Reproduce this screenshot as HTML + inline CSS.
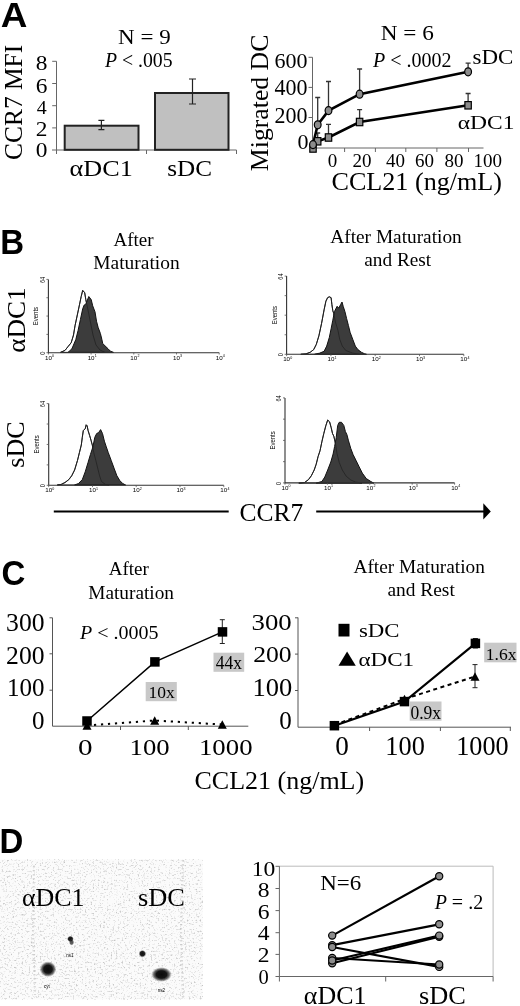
<!DOCTYPE html>
<html><head><meta charset="utf-8"><style>
html,body{margin:0;padding:0;background:#fff;}
svg{display:block;will-change:transform;}
text{fill:#000;}
</style></head><body>
<svg width="520" height="1006" viewBox="0 0 520 1006">
<rect width="520" height="1006" fill="#fff"/>
<path d="M56.5,61.3 V150 M52,150 H236.5" stroke="#666" stroke-width="1" fill="none"/>
<line x1="52.2" y1="61.3" x2="56.5" y2="61.3" stroke="#666" stroke-width="1"/>
<line x1="52.2" y1="83.5" x2="56.5" y2="83.5" stroke="#666" stroke-width="1"/>
<line x1="52.2" y1="105.7" x2="56.5" y2="105.7" stroke="#666" stroke-width="1"/>
<line x1="52.2" y1="127.9" x2="56.5" y2="127.9" stroke="#666" stroke-width="1"/>
<line x1="56.5" y1="150" x2="56.5" y2="154" stroke="#666" stroke-width="1"/>
<line x1="146.5" y1="150" x2="146.5" y2="154" stroke="#666" stroke-width="1"/>
<line x1="236.5" y1="150" x2="236.5" y2="154" stroke="#666" stroke-width="1"/>
<rect x="64.7" y="125.7" width="73.8" height="24.1" fill="#c0c0c0" stroke="#222" stroke-width="2"/>
<rect x="155" y="93" width="73.5" height="56.8" fill="#c0c0c0" stroke="#222" stroke-width="2"/>
<path d="M101.4,120.4 V129.6 M98.4,120.4 H104.4 M98.4,129.6 H104.4" stroke="#222" stroke-width="1.2" fill="none"/>
<path d="M192.5,79 V104 M189.0,79 H196.0 M189.0,104 H196.0" stroke="#222" stroke-width="1.2" fill="none"/>
<path d="M312.5,57.3 V148 H483.5" stroke="#666" stroke-width="1" fill="none"/>
<line x1="308.5" y1="57.3" x2="312.5" y2="57.3" stroke="#666" stroke-width="1"/>
<line x1="308.5" y1="87.4" x2="312.5" y2="87.4" stroke="#666" stroke-width="1"/>
<line x1="308.5" y1="117.5" x2="312.5" y2="117.5" stroke="#666" stroke-width="1"/>
<line x1="344.6" y1="148" x2="344.6" y2="152" stroke="#666" stroke-width="1"/>
<line x1="375.4" y1="148" x2="375.4" y2="152" stroke="#666" stroke-width="1"/>
<line x1="405.8" y1="148" x2="405.8" y2="152" stroke="#666" stroke-width="1"/>
<line x1="436.9" y1="148" x2="436.9" y2="152" stroke="#666" stroke-width="1"/>
<line x1="468.5" y1="148" x2="468.5" y2="152" stroke="#666" stroke-width="1"/>
<path d="M317.7,124.8 V97.5 M315.2,97.5 H320.2" stroke="#333" stroke-width="1.3" fill="none"/>
<path d="M328.5,110.6 V81.5 M326.0,81.5 H331.0" stroke="#333" stroke-width="1.3" fill="none"/>
<path d="M359.6,94.2 V69 M357.1,69 H362.1" stroke="#333" stroke-width="1.3" fill="none"/>
<path d="M468.1,71.8 V63.1 M465.6,63.1 H470.6" stroke="#333" stroke-width="1.3" fill="none"/>
<path d="M317.7,141.3 V133 M315.2,133 H320.2" stroke="#333" stroke-width="1.3" fill="none"/>
<path d="M328.5,137.5 V124.4 M326.0,124.4 H331.0" stroke="#333" stroke-width="1.3" fill="none"/>
<path d="M359.6,122 V109.6 M357.1,109.6 H362.1" stroke="#333" stroke-width="1.3" fill="none"/>
<path d="M468.1,105.3 V93.5 M465.6,93.5 H470.6" stroke="#333" stroke-width="1.3" fill="none"/>
<polyline points="313.0,144.6 317.7,124.8 328.5,110.6 359.6,94.2 468.1,71.8" fill="none" stroke="#000" stroke-width="2.6"/>
<polyline points="313.0,148.5 317.7,141.3 328.5,137.5 359.6,122.0 468.1,105.3" fill="none" stroke="#000" stroke-width="2.6"/>
<rect x="309.8" y="144.8" width="6.4" height="7.4" fill="#8c8c8c" stroke="#000" stroke-width="1.2"/>
<rect x="314.5" y="137.60000000000002" width="6.4" height="7.4" fill="#8c8c8c" stroke="#000" stroke-width="1.2"/>
<rect x="325.3" y="133.8" width="6.4" height="7.4" fill="#8c8c8c" stroke="#000" stroke-width="1.2"/>
<rect x="356.40000000000003" y="118.3" width="6.4" height="7.4" fill="#8c8c8c" stroke="#000" stroke-width="1.2"/>
<rect x="464.90000000000003" y="101.6" width="6.4" height="7.4" fill="#8c8c8c" stroke="#000" stroke-width="1.2"/>
<ellipse cx="313" cy="144.6" rx="3.4" ry="4.0" fill="#8c8c8c" stroke="#000" stroke-width="1.2"/>
<ellipse cx="317.7" cy="124.8" rx="3.4" ry="4.0" fill="#8c8c8c" stroke="#000" stroke-width="1.2"/>
<ellipse cx="328.5" cy="110.6" rx="3.4" ry="4.0" fill="#8c8c8c" stroke="#000" stroke-width="1.2"/>
<ellipse cx="359.6" cy="94.2" rx="3.4" ry="4.0" fill="#8c8c8c" stroke="#000" stroke-width="1.2"/>
<ellipse cx="468.1" cy="71.8" rx="3.4" ry="4.0" fill="#8c8c8c" stroke="#000" stroke-width="1.2"/>
<polygon points="60.4,352.4 65.0,350.4 68.1,346.5 71.2,342.7 73.5,335.0 75.0,325.8 77.3,315.0 79.6,304.2 81.2,296.5 82.7,290.4 84.7,292.7 85.8,299.6 88.0,310.0 90.0,320.0 93.0,335.0 96.0,345.0 100.0,350.0 105.0,352.4" fill="#fff" stroke="#111" stroke-width="1"/>
<polygon points="68.0,352.4 71.9,348.8 75.8,339.6 78.1,330.4 80.4,319.6 82.7,308.8 84.2,305.0 85.8,304.2 88.8,296.5 91.2,299.6 92.7,305.8 95.0,311.9 96.5,321.2 98.1,327.3 100.4,333.5 101.9,339.6 102.7,343.5 105.0,345.8 108.1,348.8 110.4,351.2 113.5,352.4" fill="#3c3c3c" stroke="#111" stroke-width="1"/>
<polyline points="60.4,352.4 65.0,350.4 68.1,346.5 71.2,342.7 73.5,335.0 75.0,325.8 77.3,315.0 79.6,304.2 81.2,296.5 82.7,290.4 84.7,292.7 85.8,299.6 88.0,310.0 90.0,320.0 93.0,335.0 96.0,345.0 100.0,350.0 105.0,352.4" fill="none" stroke="#222" stroke-width="0.8"/>
<path d="M48.4,279.4 V352.7 H219.2" fill="none" stroke="#333" stroke-width="1.1"/>
<line x1="46.4" y1="279.4" x2="48.4" y2="279.4" stroke="#555" stroke-width="0.8"/>
<line x1="46.4" y1="297.72499999999997" x2="48.4" y2="297.72499999999997" stroke="#555" stroke-width="0.8"/>
<line x1="46.4" y1="316.04999999999995" x2="48.4" y2="316.04999999999995" stroke="#555" stroke-width="0.8"/>
<line x1="46.4" y1="334.375" x2="48.4" y2="334.375" stroke="#555" stroke-width="0.8"/>
<line x1="46.4" y1="352.7" x2="48.4" y2="352.7" stroke="#555" stroke-width="0.8"/>
<line x1="48.4" y1="352.7" x2="48.4" y2="354.5" stroke="#555" stroke-width="0.8"/>
<text x="48.4" y="359.7" font-size="6.2" text-anchor="middle" font-family="Liberation Sans, sans-serif" fill="#444">10</text>
<text x="53.0" y="357.09999999999997" font-size="3.6" text-anchor="middle" font-family="Liberation Sans, sans-serif" fill="#555">0</text>
<line x1="91.1" y1="352.7" x2="91.1" y2="354.5" stroke="#555" stroke-width="0.8"/>
<text x="91.1" y="359.7" font-size="6.2" text-anchor="middle" font-family="Liberation Sans, sans-serif" fill="#444">10</text>
<text x="95.69999999999999" y="357.09999999999997" font-size="3.6" text-anchor="middle" font-family="Liberation Sans, sans-serif" fill="#555">1</text>
<line x1="133.8" y1="352.7" x2="133.8" y2="354.5" stroke="#555" stroke-width="0.8"/>
<text x="133.8" y="359.7" font-size="6.2" text-anchor="middle" font-family="Liberation Sans, sans-serif" fill="#444">10</text>
<text x="138.4" y="357.09999999999997" font-size="3.6" text-anchor="middle" font-family="Liberation Sans, sans-serif" fill="#555">2</text>
<line x1="176.5" y1="352.7" x2="176.5" y2="354.5" stroke="#555" stroke-width="0.8"/>
<text x="176.5" y="359.7" font-size="6.2" text-anchor="middle" font-family="Liberation Sans, sans-serif" fill="#444">10</text>
<text x="181.1" y="357.09999999999997" font-size="3.6" text-anchor="middle" font-family="Liberation Sans, sans-serif" fill="#555">3</text>
<line x1="219.2" y1="352.7" x2="219.2" y2="354.5" stroke="#555" stroke-width="0.8"/>
<text x="219.2" y="359.7" font-size="6.2" text-anchor="middle" font-family="Liberation Sans, sans-serif" fill="#444">10</text>
<text x="223.79999999999998" y="357.09999999999997" font-size="3.6" text-anchor="middle" font-family="Liberation Sans, sans-serif" fill="#555">4</text>
<text transform="translate(44.6,279.9) rotate(-90) scale(0.8,1)" font-size="7" text-anchor="middle" font-family="Liberation Sans, sans-serif" fill="#444">64</text>
<text transform="translate(44.6,353.2) rotate(-90) scale(0.8,1)" font-size="7" text-anchor="middle" font-family="Liberation Sans, sans-serif" fill="#444">0</text>
<text transform="translate(38.3,316.04999999999995) rotate(-90) scale(0.82,1)" font-size="7.3" text-anchor="middle" font-family="Liberation Sans, sans-serif" fill="#333">Events</text>
<polygon points="300.8,354.3 306.0,353.9 310.3,352.2 313.7,349.6 316.3,344.4 318.9,335.8 321.5,323.7 324.1,309.8 325.9,301.2 327.6,297.7 329.3,296.8 331.1,297.7 331.9,304.6 332.8,310.7 333.7,313.3 335.4,321.9 338.0,330.6 339.7,339.2 342.3,346.1 345.8,350.5 352.7,353.1 359.6,354.3" fill="#fff" stroke="#111" stroke-width="1"/>
<polygon points="314.6,354.3 319.8,353.1 324.1,351.3 326.7,346.1 329.3,337.5 331.1,328.8 332.8,320.2 334.5,311.5 337.1,306.3 338.8,308.1 340.6,304.6 342.0,302.0 343.2,306.3 344.9,311.5 346.6,318.5 348.4,325.4 350.1,332.3 352.7,339.2 355.3,346.1 357.9,349.6 361.3,352.2 364.8,353.9 366.5,354.3" fill="#3c3c3c" stroke="#111" stroke-width="1"/>
<polyline points="300.8,354.3 306.0,353.9 310.3,352.2 313.7,349.6 316.3,344.4 318.9,335.8 321.5,323.7 324.1,309.8 325.9,301.2 327.6,297.7 329.3,296.8 331.1,297.7 331.9,304.6 332.8,310.7 333.7,313.3 335.4,321.9 338.0,330.6 339.7,339.2 342.3,346.1 345.8,350.5 352.7,353.1 359.6,354.3" fill="none" stroke="#222" stroke-width="0.8"/>
<path d="M286.6,276.1 V354.3 H463.8" fill="none" stroke="#333" stroke-width="1.1"/>
<line x1="284.6" y1="276.1" x2="286.6" y2="276.1" stroke="#555" stroke-width="0.8"/>
<line x1="284.6" y1="295.65000000000003" x2="286.6" y2="295.65000000000003" stroke="#555" stroke-width="0.8"/>
<line x1="284.6" y1="315.20000000000005" x2="286.6" y2="315.20000000000005" stroke="#555" stroke-width="0.8"/>
<line x1="284.6" y1="334.75" x2="286.6" y2="334.75" stroke="#555" stroke-width="0.8"/>
<line x1="284.6" y1="354.3" x2="286.6" y2="354.3" stroke="#555" stroke-width="0.8"/>
<line x1="286.6" y1="354.3" x2="286.6" y2="356.1" stroke="#555" stroke-width="0.8"/>
<text x="286.6" y="361.3" font-size="6.2" text-anchor="middle" font-family="Liberation Sans, sans-serif" fill="#444">10</text>
<text x="291.20000000000005" y="358.7" font-size="3.6" text-anchor="middle" font-family="Liberation Sans, sans-serif" fill="#555">0</text>
<line x1="330.9" y1="354.3" x2="330.9" y2="356.1" stroke="#555" stroke-width="0.8"/>
<text x="330.9" y="361.3" font-size="6.2" text-anchor="middle" font-family="Liberation Sans, sans-serif" fill="#444">10</text>
<text x="335.5" y="358.7" font-size="3.6" text-anchor="middle" font-family="Liberation Sans, sans-serif" fill="#555">1</text>
<line x1="375.2" y1="354.3" x2="375.2" y2="356.1" stroke="#555" stroke-width="0.8"/>
<text x="375.2" y="361.3" font-size="6.2" text-anchor="middle" font-family="Liberation Sans, sans-serif" fill="#444">10</text>
<text x="379.8" y="358.7" font-size="3.6" text-anchor="middle" font-family="Liberation Sans, sans-serif" fill="#555">2</text>
<line x1="419.5" y1="354.3" x2="419.5" y2="356.1" stroke="#555" stroke-width="0.8"/>
<text x="419.5" y="361.3" font-size="6.2" text-anchor="middle" font-family="Liberation Sans, sans-serif" fill="#444">10</text>
<text x="424.1" y="358.7" font-size="3.6" text-anchor="middle" font-family="Liberation Sans, sans-serif" fill="#555">3</text>
<line x1="463.8" y1="354.3" x2="463.8" y2="356.1" stroke="#555" stroke-width="0.8"/>
<text x="463.8" y="361.3" font-size="6.2" text-anchor="middle" font-family="Liberation Sans, sans-serif" fill="#444">10</text>
<text x="468.40000000000003" y="358.7" font-size="3.6" text-anchor="middle" font-family="Liberation Sans, sans-serif" fill="#555">4</text>
<text transform="translate(282.8,276.6) rotate(-90) scale(0.8,1)" font-size="7" text-anchor="middle" font-family="Liberation Sans, sans-serif" fill="#444">64</text>
<text transform="translate(282.8,354.8) rotate(-90) scale(0.8,1)" font-size="7" text-anchor="middle" font-family="Liberation Sans, sans-serif" fill="#444">0</text>
<text transform="translate(276.5,315.20000000000005) rotate(-90) scale(0.82,1)" font-size="7.3" text-anchor="middle" font-family="Liberation Sans, sans-serif" fill="#333">Events</text>
<polygon points="57.3,485.0 61.2,484.4 65.0,482.5 68.8,479.6 71.7,475.8 74.6,470.0 77.5,460.4 79.4,452.7 81.3,445.0 82.3,437.3 83.3,430.6 85.2,428.7 86.2,424.8 87.1,425.8 88.1,430.6 89.6,435.4 91.0,440.2 92.3,445.0 93.8,452.7 95.8,460.4 97.7,468.1 99.6,475.8 101.5,481.5 105.4,484.4 109.2,485.0" fill="#fff" stroke="#111" stroke-width="1"/>
<polygon points="74.6,485.0 78.5,483.5 82.3,479.6 85.2,471.9 88.1,462.3 90.4,454.6 92.9,446.9 94.8,437.3 96.7,433.5 98.7,432.5 100.6,429.6 102.5,433.5 104.4,441.2 106.3,446.9 108.3,452.7 111.2,460.4 114.0,468.1 116.9,475.8 119.8,480.6 122.7,483.5 125.6,485.0" fill="#3c3c3c" stroke="#111" stroke-width="1"/>
<polyline points="57.3,485.0 61.2,484.4 65.0,482.5 68.8,479.6 71.7,475.8 74.6,470.0 77.5,460.4 79.4,452.7 81.3,445.0 82.3,437.3 83.3,430.6 85.2,428.7 86.2,424.8 87.1,425.8 88.1,430.6 89.6,435.4 91.0,440.2 92.3,445.0 93.8,452.7 95.8,460.4 97.7,468.1 99.6,475.8 101.5,481.5 105.4,484.4 109.2,485.0" fill="none" stroke="#222" stroke-width="0.8"/>
<path d="M48.7,403.6 V485.3 H223.8" fill="none" stroke="#333" stroke-width="1.1"/>
<line x1="46.7" y1="403.6" x2="48.7" y2="403.6" stroke="#555" stroke-width="0.8"/>
<line x1="46.7" y1="424.02500000000003" x2="48.7" y2="424.02500000000003" stroke="#555" stroke-width="0.8"/>
<line x1="46.7" y1="444.45000000000005" x2="48.7" y2="444.45000000000005" stroke="#555" stroke-width="0.8"/>
<line x1="46.7" y1="464.875" x2="48.7" y2="464.875" stroke="#555" stroke-width="0.8"/>
<line x1="46.7" y1="485.3" x2="48.7" y2="485.3" stroke="#555" stroke-width="0.8"/>
<line x1="48.7" y1="485.3" x2="48.7" y2="487.1" stroke="#555" stroke-width="0.8"/>
<text x="48.7" y="492.3" font-size="6.2" text-anchor="middle" font-family="Liberation Sans, sans-serif" fill="#444">10</text>
<text x="53.300000000000004" y="489.7" font-size="3.6" text-anchor="middle" font-family="Liberation Sans, sans-serif" fill="#555">0</text>
<line x1="92.5" y1="485.3" x2="92.5" y2="487.1" stroke="#555" stroke-width="0.8"/>
<text x="92.5" y="492.3" font-size="6.2" text-anchor="middle" font-family="Liberation Sans, sans-serif" fill="#444">10</text>
<text x="97.1" y="489.7" font-size="3.6" text-anchor="middle" font-family="Liberation Sans, sans-serif" fill="#555">1</text>
<line x1="136.2" y1="485.3" x2="136.2" y2="487.1" stroke="#555" stroke-width="0.8"/>
<text x="136.2" y="492.3" font-size="6.2" text-anchor="middle" font-family="Liberation Sans, sans-serif" fill="#444">10</text>
<text x="140.79999999999998" y="489.7" font-size="3.6" text-anchor="middle" font-family="Liberation Sans, sans-serif" fill="#555">2</text>
<line x1="180.0" y1="485.3" x2="180.0" y2="487.1" stroke="#555" stroke-width="0.8"/>
<text x="180.0" y="492.3" font-size="6.2" text-anchor="middle" font-family="Liberation Sans, sans-serif" fill="#444">10</text>
<text x="184.6" y="489.7" font-size="3.6" text-anchor="middle" font-family="Liberation Sans, sans-serif" fill="#555">3</text>
<line x1="223.8" y1="485.3" x2="223.8" y2="487.1" stroke="#555" stroke-width="0.8"/>
<text x="223.8" y="492.3" font-size="6.2" text-anchor="middle" font-family="Liberation Sans, sans-serif" fill="#444">10</text>
<text x="228.4" y="489.7" font-size="3.6" text-anchor="middle" font-family="Liberation Sans, sans-serif" fill="#555">4</text>
<text transform="translate(44.900000000000006,404.1) rotate(-90) scale(0.8,1)" font-size="7" text-anchor="middle" font-family="Liberation Sans, sans-serif" fill="#444">64</text>
<text transform="translate(44.900000000000006,485.8) rotate(-90) scale(0.8,1)" font-size="7" text-anchor="middle" font-family="Liberation Sans, sans-serif" fill="#444">0</text>
<text transform="translate(38.6,444.45000000000005) rotate(-90) scale(0.82,1)" font-size="7.3" text-anchor="middle" font-family="Liberation Sans, sans-serif" fill="#333">Events</text>
<polygon points="298.8,483.1 304.6,482.5 308.5,479.6 311.3,475.8 314.2,470.0 316.2,464.2 318.1,456.5 320.0,450.8 322.0,441.2 323.8,433.5 325.8,425.8 327.7,420.0 329.6,421.9 331.2,427.7 332.5,433.5 333.8,436.2 335.4,443.1 336.9,453.1 339.2,462.3 342.3,470.0 346.2,476.2 350.8,480.0 355.4,482.0 362.0,483.1" fill="#fff" stroke="#111" stroke-width="1"/>
<polygon points="316.2,483.1 321.9,481.5 324.8,477.0 327.7,470.0 330.8,462.0 333.1,454.0 334.6,446.5 336.2,437.7 337.7,425.4 339.2,422.3 341.5,422.3 343.8,425.4 345.4,431.5 346.9,434.6 348.5,440.8 350.8,448.5 353.1,454.6 356.2,460.8 359.2,466.9 362.3,473.1 366.2,478.5 370.8,481.5 373.8,483.1" fill="#3c3c3c" stroke="#111" stroke-width="1"/>
<polyline points="298.8,483.1 304.6,482.5 308.5,479.6 311.3,475.8 314.2,470.0 316.2,464.2 318.1,456.5 320.0,450.8 322.0,441.2 323.8,433.5 325.8,425.8 327.7,420.0 329.6,421.9 331.2,427.7 332.5,433.5 333.8,436.2 335.4,443.1 336.9,453.1 339.2,462.3 342.3,470.0 346.2,476.2 350.8,480.0 355.4,482.0 362.0,483.1" fill="none" stroke="#222" stroke-width="0.8"/>
<path d="M285,397.9 V482.9 H454.6" fill="none" stroke="#333" stroke-width="1.1"/>
<line x1="283" y1="397.9" x2="285" y2="397.9" stroke="#555" stroke-width="0.8"/>
<line x1="283" y1="419.15" x2="285" y2="419.15" stroke="#555" stroke-width="0.8"/>
<line x1="283" y1="440.4" x2="285" y2="440.4" stroke="#555" stroke-width="0.8"/>
<line x1="283" y1="461.65" x2="285" y2="461.65" stroke="#555" stroke-width="0.8"/>
<line x1="283" y1="482.9" x2="285" y2="482.9" stroke="#555" stroke-width="0.8"/>
<line x1="285.0" y1="482.9" x2="285.0" y2="484.7" stroke="#555" stroke-width="0.8"/>
<text x="285.0" y="489.9" font-size="6.2" text-anchor="middle" font-family="Liberation Sans, sans-serif" fill="#444">10</text>
<text x="289.6" y="487.29999999999995" font-size="3.6" text-anchor="middle" font-family="Liberation Sans, sans-serif" fill="#555">0</text>
<line x1="327.4" y1="482.9" x2="327.4" y2="484.7" stroke="#555" stroke-width="0.8"/>
<text x="327.4" y="489.9" font-size="6.2" text-anchor="middle" font-family="Liberation Sans, sans-serif" fill="#444">10</text>
<text x="332.0" y="487.29999999999995" font-size="3.6" text-anchor="middle" font-family="Liberation Sans, sans-serif" fill="#555">1</text>
<line x1="369.8" y1="482.9" x2="369.8" y2="484.7" stroke="#555" stroke-width="0.8"/>
<text x="369.8" y="489.9" font-size="6.2" text-anchor="middle" font-family="Liberation Sans, sans-serif" fill="#444">10</text>
<text x="374.40000000000003" y="487.29999999999995" font-size="3.6" text-anchor="middle" font-family="Liberation Sans, sans-serif" fill="#555">2</text>
<line x1="412.2" y1="482.9" x2="412.2" y2="484.7" stroke="#555" stroke-width="0.8"/>
<text x="412.2" y="489.9" font-size="6.2" text-anchor="middle" font-family="Liberation Sans, sans-serif" fill="#444">10</text>
<text x="416.8" y="487.29999999999995" font-size="3.6" text-anchor="middle" font-family="Liberation Sans, sans-serif" fill="#555">3</text>
<line x1="454.6" y1="482.9" x2="454.6" y2="484.7" stroke="#555" stroke-width="0.8"/>
<text x="454.6" y="489.9" font-size="6.2" text-anchor="middle" font-family="Liberation Sans, sans-serif" fill="#444">10</text>
<text x="459.20000000000005" y="487.29999999999995" font-size="3.6" text-anchor="middle" font-family="Liberation Sans, sans-serif" fill="#555">4</text>
<text transform="translate(281.2,398.4) rotate(-90) scale(0.8,1)" font-size="7" text-anchor="middle" font-family="Liberation Sans, sans-serif" fill="#444">64</text>
<text transform="translate(281.2,483.4) rotate(-90) scale(0.8,1)" font-size="7" text-anchor="middle" font-family="Liberation Sans, sans-serif" fill="#444">0</text>
<text transform="translate(274.9,440.4) rotate(-90) scale(0.82,1)" font-size="7.3" text-anchor="middle" font-family="Liberation Sans, sans-serif" fill="#333">Events</text>
<line x1="53.8" y1="511.6" x2="228.7" y2="511.6" stroke="#000" stroke-width="2"/>
<line x1="316.2" y1="511.5" x2="485" y2="511.5" stroke="#000" stroke-width="2"/>
<polygon points="483.3,503.3 490.8,511.5 483.3,519.5" fill="#000"/>
<path d="M52.5,617.8 V726.2 H248.3" stroke="#555" stroke-width="1" fill="none"/>
<line x1="49.5" y1="617.8" x2="52.5" y2="617.8" stroke="#555" stroke-width="1"/>
<line x1="49.5" y1="653.8" x2="52.5" y2="653.8" stroke="#555" stroke-width="1"/>
<line x1="49.5" y1="690.2" x2="52.5" y2="690.2" stroke="#555" stroke-width="1"/>
<line x1="120.5" y1="726.2" x2="120.5" y2="730" stroke="#555" stroke-width="1"/>
<line x1="188.3" y1="726.2" x2="188.3" y2="730" stroke="#555" stroke-width="1"/>
<rect x="213.5" y="652.7" width="30.7" height="19.1" fill="#c8c8c8"/>
<rect x="145.7" y="682" width="31.1" height="19.2" fill="#c8c8c8"/>
<polyline points="87.0,725.5 154.7,720.5 222.3,724.5" fill="none" stroke="#000" stroke-width="2" stroke-dasharray="2.2 4.8"/>
<path d="M222.3,619.7 V643.5 M219.8,619.7 H224.8 M219.8,643.5 H224.8" stroke="#222" stroke-width="1" fill="none"/>
<polyline points="87.0,721.0 154.9,661.9 222.5,631.9" fill="none" stroke="#000" stroke-width="1.5"/>
<rect x="82.25" y="716.25" width="9.5" height="9.5" fill="#000" stroke="#000" stroke-width="0"/>
<rect x="150.15" y="657.15" width="9.5" height="9.5" fill="#000" stroke="#000" stroke-width="0"/>
<rect x="217.75" y="627.15" width="9.5" height="9.5" fill="#000" stroke="#000" stroke-width="0"/>
<polygon points="82.5,729.75 87,721.25 91.5,729.75" fill="#000"/>
<polygon points="150.2,724.75 154.7,716.25 159.2,724.75" fill="#000"/>
<polygon points="217.8,728.75 222.3,720.25 226.8,728.75" fill="#000"/>
<path d="M298,617.5 V727.2 H511" stroke="#555" stroke-width="1" fill="none"/>
<line x1="295" y1="617.8" x2="298" y2="617.8" stroke="#555" stroke-width="1"/>
<line x1="295" y1="654.1" x2="298" y2="654.1" stroke="#555" stroke-width="1"/>
<line x1="295" y1="690.5" x2="298" y2="690.5" stroke="#555" stroke-width="1"/>
<line x1="369.6" y1="727.2" x2="369.6" y2="731" stroke="#555" stroke-width="1"/>
<line x1="440.4" y1="727.2" x2="440.4" y2="731" stroke="#555" stroke-width="1"/>
<line x1="510.3" y1="727.2" x2="510.3" y2="731" stroke="#555" stroke-width="1"/>
<path d="M475,664.6 V687.7 M472.5,664.6 H477.5 M472.5,687.7 H477.5" stroke="#222" stroke-width="1" fill="none"/>
<path d="M475.4,638.5 V648 M472.9,638.5 H477.9 M472.9,648 H477.9" stroke="#222" stroke-width="1" fill="none"/>
<polyline points="334.4,725.0 404.5,699.0 475.0,676.5" fill="none" stroke="#000" stroke-width="2" stroke-dasharray="4 3.5"/>
<polyline points="334.4,725.7 404.5,701.6 475.4,643.4" fill="none" stroke="#000" stroke-width="2.2"/>
<rect x="329.65" y="720.95" width="9.5" height="9.5" fill="#000" stroke="#000" stroke-width="0"/>
<rect x="399.75" y="696.85" width="9.5" height="9.5" fill="#000" stroke="#000" stroke-width="0"/>
<rect x="470.65" y="638.65" width="9.5" height="9.5" fill="#000" stroke="#000" stroke-width="0"/>
<polygon points="329.9,729.25 334.4,720.75 338.9,729.25" fill="#000"/>
<polygon points="400.0,703.25 404.5,694.75 409.0,703.25" fill="#000"/>
<polygon points="470.5,680.75 475,672.25 479.5,680.75" fill="#000"/>
<rect x="338.5" y="623.8" width="11" height="12.7" fill="#000"/>
<polygon points="338.5,665.8 347.1,651.5 355.8,665.8" fill="#000"/>
<rect x="484.2" y="642.7" width="32.3" height="19.6" fill="#c8c8c8"/>
<rect x="409.7" y="701.5" width="31.8" height="19.2" fill="#c8c8c8"/>
<defs><filter id="spk" x="0" y="0" width="100%" height="100%" filterUnits="objectBoundingBox"><feTurbulence type="fractalNoise" baseFrequency="0.55" numOctaves="2" seed="11" result="n"/><feColorMatrix in="n" type="matrix" values="0 0 0 0 0.55  0 0 0 0 0.55  0 0 0 0 0.55  -3.2 0 0 0 1.45"/></filter><radialGradient id="sp"><stop offset="0" stop-color="#0a0a0a"/><stop offset="0.5" stop-color="#151515"/><stop offset="0.75" stop-color="#333" stop-opacity="0.7"/><stop offset="1" stop-color="#888" stop-opacity="0"/></radialGradient><radialGradient id="sp2"><stop offset="0" stop-color="#111"/><stop offset="0.6" stop-color="#222"/><stop offset="1" stop-color="#666" stop-opacity="0"/></radialGradient></defs>
<rect x="0" y="859.5" width="202.6" height="140" fill="#fbfbfb"/>
<rect x="0" y="859.5" width="202.6" height="140" filter="url(#spk)"/>
<path d="M34,866 L33,930 L35,995 M183,860 L181,930 L183,998" stroke="#bbb" stroke-width="2.2" stroke-dasharray="1.5 2.5" opacity="0.55" fill="none"/>
<ellipse cx="48" cy="969.2" rx="8.5" ry="8" fill="url(#sp)"/>
<ellipse cx="70.4" cy="938.9" rx="3.4" ry="3.2" fill="url(#sp2)"/>
<ellipse cx="71.6" cy="942.3" rx="2.6" ry="3.2" fill="url(#sp2)" opacity="0.7"/>
<ellipse cx="142.4" cy="953.7" rx="3.8" ry="3.8" fill="url(#sp2)"/>
<ellipse cx="161.5" cy="974.5" rx="10.5" ry="7.5" fill="url(#sp)"/>
<text x="69.8" y="956.5" font-size="4.5" text-anchor="middle" font-family="Liberation Sans, sans-serif" fill="#999">ns1</text>
<text x="46.8" y="988.3" font-size="4.5" text-anchor="middle" font-family="Liberation Sans, sans-serif" fill="#aaa">cyt</text>
<text x="161.5" y="992" font-size="4.5" text-anchor="middle" font-family="Liberation Sans, sans-serif" fill="#888">ns2</text>
<path d="M279.4,866.2 H493.1 V976.5" stroke="#bbb" stroke-width="1" fill="none"/>
<path d="M279.4,866.2 V976.5 H493.1" stroke="#666" stroke-width="1" fill="none"/>
<line x1="275.5" y1="866.3" x2="279.4" y2="866.3" stroke="#666" stroke-width="1"/>
<line x1="275.5" y1="888.5" x2="279.4" y2="888.5" stroke="#666" stroke-width="1"/>
<line x1="275.5" y1="910.6" x2="279.4" y2="910.6" stroke="#666" stroke-width="1"/>
<line x1="275.5" y1="932.7" x2="279.4" y2="932.7" stroke="#666" stroke-width="1"/>
<line x1="275.5" y1="954.4" x2="279.4" y2="954.4" stroke="#666" stroke-width="1"/>
<line x1="275.5" y1="976.5" x2="279.4" y2="976.5" stroke="#666" stroke-width="1"/>
<line x1="279.4" y1="976.5" x2="279.4" y2="981.5" stroke="#666" stroke-width="1"/>
<line x1="385.7" y1="976.5" x2="385.7" y2="981.5" stroke="#666" stroke-width="1"/>
<line x1="493.1" y1="976.5" x2="493.1" y2="981.5" stroke="#666" stroke-width="1"/>
<line x1="332.2" y1="935.6" x2="439.2" y2="876.2" stroke="#000" stroke-width="2.2"/>
<line x1="332.2" y1="945.2" x2="439.2" y2="924.3" stroke="#000" stroke-width="2.2"/>
<line x1="332.2" y1="947" x2="439.2" y2="966.9" stroke="#000" stroke-width="2.2"/>
<line x1="332.2" y1="958" x2="439.2" y2="964.5" stroke="#000" stroke-width="2.2"/>
<line x1="332.2" y1="963.3" x2="439.2" y2="936.8" stroke="#000" stroke-width="2.2"/>
<line x1="332.2" y1="960.5" x2="439.2" y2="935.6" stroke="#000" stroke-width="2.2"/>
<ellipse cx="332.2" cy="935.6" rx="3.6" ry="3.6" fill="#8c8c8c" stroke="#000" stroke-width="1.2"/>
<ellipse cx="439.2" cy="876.2" rx="3.6" ry="3.6" fill="#8c8c8c" stroke="#000" stroke-width="1.2"/>
<ellipse cx="332.2" cy="945.2" rx="3.6" ry="3.6" fill="#8c8c8c" stroke="#000" stroke-width="1.2"/>
<ellipse cx="439.2" cy="924.3" rx="3.6" ry="3.6" fill="#8c8c8c" stroke="#000" stroke-width="1.2"/>
<ellipse cx="332.2" cy="947" rx="3.6" ry="3.6" fill="#8c8c8c" stroke="#000" stroke-width="1.2"/>
<ellipse cx="439.2" cy="966.9" rx="3.6" ry="3.6" fill="#8c8c8c" stroke="#000" stroke-width="1.2"/>
<ellipse cx="332.2" cy="958" rx="3.6" ry="3.6" fill="#8c8c8c" stroke="#000" stroke-width="1.2"/>
<ellipse cx="439.2" cy="964.5" rx="3.6" ry="3.6" fill="#8c8c8c" stroke="#000" stroke-width="1.2"/>
<ellipse cx="332.2" cy="963.3" rx="3.6" ry="3.6" fill="#8c8c8c" stroke="#000" stroke-width="1.2"/>
<ellipse cx="439.2" cy="936.8" rx="3.6" ry="3.6" fill="#8c8c8c" stroke="#000" stroke-width="1.2"/>
<ellipse cx="332.2" cy="960.5" rx="3.6" ry="3.6" fill="#8c8c8c" stroke="#000" stroke-width="1.2"/>
<ellipse cx="439.2" cy="935.6" rx="3.6" ry="3.6" fill="#8c8c8c" stroke="#000" stroke-width="1.2"/>
<text id="t_A" transform="translate(0.70,27.10) scale(1.0728,1)" font-size="34.38" text-anchor="start" font-family="Liberation Sans, sans-serif" font-weight="bold">A</text>
<text id="t_B" transform="translate(0.20,253.60) scale(0.9504,1)" font-size="34.72" text-anchor="start" font-family="Liberation Sans, sans-serif" font-weight="bold">B</text>
<text id="t_C" transform="translate(1.40,584.90) scale(0.9411,1)" font-size="35.07" text-anchor="start" font-family="Liberation Sans, sans-serif" font-weight="bold">C</text>
<text id="t_D" transform="translate(-0.60,853.20) scale(0.9473,1)" font-size="34.84" text-anchor="start" font-family="Liberation Sans, sans-serif" font-weight="bold">D</text>
<text id="t_CCR7MFI" transform="translate(22.10,102.40) rotate(-90) scale(1.0180,1)" font-size="25.00" text-anchor="middle" font-family="Liberation Serif, serif">CCR7 MFI</text>
<text id="t_N=9" transform="translate(118.10,43.80) scale(1.0467,1)" font-size="22.00" text-anchor="start" font-family="Liberation Serif, serif">N = 9</text>
<text id="t_P<.005" transform="translate(105.00,67.00) scale(0.9871,1)" font-size="20.00" text-anchor="start" font-family="Liberation Serif, serif"><tspan font-style="italic">P</tspan> &lt; .005</text>
<text id="t_aDC1_A" transform="translate(69.60,176.00) scale(1.1389,1)" font-size="23.00" text-anchor="start" font-family="Liberation Serif, serif">αDC1</text>
<text id="t_sDC_A" transform="translate(167.20,176.00) scale(1.0720,1)" font-size="23.50" text-anchor="start" font-family="Liberation Serif, serif">sDC</text>
<text id="t_MigratedDC" transform="translate(267.80,102.90) rotate(-90) scale(1.0090,1)" font-size="25.50" text-anchor="middle" font-family="Liberation Serif, serif">Migrated DC</text>
<text id="t_N=6" transform="translate(380.70,39.60) scale(1.0558,1)" font-size="22.00" text-anchor="start" font-family="Liberation Serif, serif">N = 6</text>
<text id="t_P<.0002" transform="translate(373.00,67.00)" font-size="20.00" text-anchor="start" font-family="Liberation Serif, serif"><tspan font-style="italic">P</tspan> &lt; .0002</text>
<text id="t_sDC_Ar" transform="translate(472.50,64.20) scale(1.0944,1)" font-size="21.00" text-anchor="start" font-family="Liberation Serif, serif">sDC</text>
<text id="t_aDC1_Ar" transform="translate(457.75,128.80) scale(1.2014,1)" font-size="19.56" text-anchor="start" font-family="Liberation Serif, serif">αDC1</text>
<text id="t_CCL21_A" transform="translate(331.50,190.00) scale(1.0053,1)" font-size="26.00" text-anchor="start" font-family="Liberation Serif, serif">CCL21 (ng/mL)</text>
<text id="t_After_B" transform="translate(133.55,246.10)" font-size="19.00" text-anchor="middle" font-family="Liberation Serif, serif">After</text>
<text id="t_Maturation_B" transform="translate(136.50,268.80) scale(1.0231,1)" font-size="19.00" text-anchor="middle" font-family="Liberation Serif, serif">Maturation</text>
<text id="t_AfterMat_B" transform="translate(396.00,242.50) scale(1.0169,1)" font-size="19.00" text-anchor="middle" font-family="Liberation Serif, serif">After Maturation</text>
<text id="t_andRest_B" transform="translate(397.70,265.60) scale(1.0148,1)" font-size="19.00" text-anchor="middle" font-family="Liberation Serif, serif">and Rest</text>
<text id="t_aDC1_Brot" transform="translate(25.00,320.10) rotate(-90) scale(1.0428,1)" font-size="26.00" text-anchor="middle" font-family="Liberation Serif, serif">αDC1</text>
<text id="t_sDC_Brot" transform="translate(24.30,444.60) rotate(-90)" font-size="26.00" text-anchor="middle" font-family="Liberation Serif, serif">sDC</text>
<text id="t_CCR7" transform="translate(239.55,521.00)" font-size="25.50" text-anchor="start" font-family="Liberation Serif, serif">CCR7</text>
<text id="t_After_C" transform="translate(128.80,575.00)" font-size="19.00" text-anchor="middle" font-family="Liberation Serif, serif">After</text>
<text id="t_Maturation_C" transform="translate(131.10,598.80) scale(1.0164,1)" font-size="19.00" text-anchor="middle" font-family="Liberation Serif, serif">Maturation</text>
<text id="t_AfterMat_C" transform="translate(419.20,572.80) scale(1.0175,1)" font-size="19.00" text-anchor="middle" font-family="Liberation Serif, serif">After Maturation</text>
<text id="t_andRest_C" transform="translate(421.10,595.90) scale(1.0222,1)" font-size="19.00" text-anchor="middle" font-family="Liberation Serif, serif">and Rest</text>
<text id="t_P<.0005" transform="translate(80.00,638.50) scale(1.0671,1)" font-size="18.74" text-anchor="start" font-family="Liberation Serif, serif"><tspan font-style="italic">P</tspan> &lt; .0005</text>
<text id="t_CCL21_C" transform="translate(194.45,788.70)" font-size="26.00" text-anchor="start" font-family="Liberation Serif, serif">CCL21 (ng/mL)</text>
<text id="t_sDC_leg" transform="translate(358.90,636.50) scale(1.1741,1)" font-size="19.44" text-anchor="start" font-family="Liberation Serif, serif">sDC</text>
<text id="t_aDC1_leg" transform="translate(358.40,666.10) scale(1.2184,1)" font-size="18.96" text-anchor="start" font-family="Liberation Serif, serif">αDC1</text>
<text id="t_aDC1_D" transform="translate(22.00,905.60) scale(1.0594,1)" font-size="24.50" text-anchor="start" font-family="Liberation Serif, serif">αDC1</text>
<text id="t_sDC_D" transform="translate(138.00,905.80) scale(1.0776,1)" font-size="24.50" text-anchor="start" font-family="Liberation Serif, serif">sDC</text>
<text id="t_N=6_D" transform="translate(320.25,890.10) scale(1.0442,1)" font-size="22.00" text-anchor="start" font-family="Liberation Serif, serif">N=6</text>
<text id="t_P=.2" transform="translate(434.65,908.50)" font-size="20.00" text-anchor="start" font-family="Liberation Serif, serif"><tspan font-style="italic">P</tspan> = .2</text>
<text id="t_aDC1_Dx" transform="translate(303.85,1003.60) scale(1.0203,1)" font-size="25.41" text-anchor="start" font-family="Liberation Serif, serif">αDC1</text>
<text id="t_sDC_Dx" transform="translate(419.00,1003.60) scale(1.0372,1)" font-size="25.41" text-anchor="start" font-family="Liberation Serif, serif">sDC</text>
<text id="t_yA8" transform="translate(47.55,70.40) scale(1.1700,1)" font-size="20.00" text-anchor="end" font-family="Liberation Serif, serif">8</text>
<text id="t_yA6" transform="translate(47.55,92.60) scale(1.1700,1)" font-size="20.00" text-anchor="end" font-family="Liberation Serif, serif">6</text>
<text id="t_yA4" transform="translate(46.80,113.80) scale(1.0938,1)" font-size="18.29" text-anchor="end" font-family="Liberation Serif, serif">4</text>
<text id="t_yA2" transform="translate(47.55,136.30) scale(1.1700,1)" font-size="20.00" text-anchor="end" font-family="Liberation Serif, serif">2</text>
<text id="t_yA0" transform="translate(47.55,157.40) scale(1.1700,1)" font-size="20.00" text-anchor="end" font-family="Liberation Serif, serif">0</text>
<text id="t_yB600" transform="translate(307.50,68.30)" font-size="22.00" text-anchor="end" font-family="Liberation Serif, serif">600</text>
<text id="t_yB400" transform="translate(307.50,95.40) scale(0.9409,1)" font-size="23.38" text-anchor="end" font-family="Liberation Serif, serif">400</text>
<text id="t_yB200" transform="translate(307.50,122.50) scale(0.9409,1)" font-size="23.38" text-anchor="end" font-family="Liberation Serif, serif">200</text>
<text id="t_yB0" transform="translate(308.40,149.20)" font-size="22.00" text-anchor="end" font-family="Liberation Serif, serif">0</text>
<text id="t_xB0" transform="translate(332.50,166.80)" font-size="19.00" text-anchor="middle" font-family="Liberation Serif, serif">0</text>
<text id="t_xB20" transform="translate(361.90,166.80)" font-size="19.00" text-anchor="middle" font-family="Liberation Serif, serif">20</text>
<text id="t_xB40" transform="translate(395.50,166.80)" font-size="19.00" text-anchor="middle" font-family="Liberation Serif, serif">40</text>
<text id="t_xB60" transform="translate(424.50,166.80)" font-size="19.00" text-anchor="middle" font-family="Liberation Serif, serif">60</text>
<text id="t_xB80" transform="translate(453.90,166.80)" font-size="19.00" text-anchor="middle" font-family="Liberation Serif, serif">80</text>
<text id="t_xB100" transform="translate(487.80,166.80)" font-size="19.00" text-anchor="middle" font-family="Liberation Serif, serif">100</text>
<text id="t_yCL300" transform="translate(44.60,631.30) scale(1.0267,1)" font-size="25.00" text-anchor="end" font-family="Liberation Serif, serif">300</text>
<text id="t_yCL200" transform="translate(44.60,663.70) scale(1.0267,1)" font-size="25.00" text-anchor="end" font-family="Liberation Serif, serif">200</text>
<text id="t_yCL100" transform="translate(44.60,696.30)" font-size="25.00" text-anchor="end" font-family="Liberation Serif, serif">100</text>
<text id="t_yCL0" transform="translate(44.60,728.60)" font-size="25.00" text-anchor="end" font-family="Liberation Serif, serif">0</text>
<text id="t_yCR300" transform="translate(291.70,630.40) scale(1.1301,1)" font-size="23.71" text-anchor="end" font-family="Liberation Serif, serif">300</text>
<text id="t_yCR200" transform="translate(291.70,662.40) scale(1.1217,1)" font-size="22.88" text-anchor="end" font-family="Liberation Serif, serif">200</text>
<text id="t_yCR100" transform="translate(292.20,695.70) scale(1.0588,1)" font-size="25.00" text-anchor="end" font-family="Liberation Serif, serif">100</text>
<text id="t_yCR0" transform="translate(291.70,728.60)" font-size="25.00" text-anchor="end" font-family="Liberation Serif, serif">0</text>
<text id="t_xCL0" transform="translate(85.40,754.80) scale(1.2424,1)" font-size="23.47" text-anchor="middle" font-family="Liberation Serif, serif">0</text>
<text id="t_xCL100" transform="translate(149.65,754.80) scale(1.1395,1)" font-size="23.47" text-anchor="middle" font-family="Liberation Serif, serif">100</text>
<text id="t_xCL1000" transform="translate(225.75,754.80) scale(1.1415,1)" font-size="23.47" text-anchor="middle" font-family="Liberation Serif, serif">1000</text>
<text id="t_xCR0" transform="translate(342.00,754.50) scale(1.0298,1)" font-size="26.41" text-anchor="middle" font-family="Liberation Serif, serif">0</text>
<text id="t_xCR100" transform="translate(405.05,754.50) scale(0.9978,1)" font-size="26.41" text-anchor="middle" font-family="Liberation Serif, serif">100</text>
<text id="t_xCR1000" transform="translate(482.45,754.50) scale(0.9933,1)" font-size="26.41" text-anchor="middle" font-family="Liberation Serif, serif">1000</text>
<text id="t_yD10" transform="translate(263.60,875.60) scale(1.1506,1)" font-size="20.50" text-anchor="middle" font-family="Liberation Serif, serif">10</text>
<text id="t_yD8" transform="translate(263.60,896.80) scale(1.1506,1)" font-size="20.50" text-anchor="middle" font-family="Liberation Serif, serif">8</text>
<text id="t_yD6" transform="translate(263.60,919.10) scale(1.1506,1)" font-size="20.50" text-anchor="middle" font-family="Liberation Serif, serif">6</text>
<text id="t_yD4" transform="translate(263.60,940.00) scale(1.1506,1)" font-size="20.50" text-anchor="middle" font-family="Liberation Serif, serif">4</text>
<text id="t_yD2" transform="translate(263.60,962.30) scale(1.1506,1)" font-size="20.50" text-anchor="middle" font-family="Liberation Serif, serif">2</text>
<text id="t_yD0" transform="translate(263.60,983.90)" font-size="20.50" text-anchor="middle" font-family="Liberation Serif, serif">0</text>
<text id="t_44x" transform="translate(215.70,669.20) scale(0.9136,1)" font-size="19.15" text-anchor="start" font-family="Liberation Serif, serif">44x</text>
<text id="t_10x" transform="translate(148.40,697.70)" font-size="17.50" text-anchor="start" font-family="Liberation Serif, serif">10x</text>
<text id="t_1.6x" transform="translate(485.75,659.70)" font-size="17.50" text-anchor="start" font-family="Liberation Serif, serif">1.6x</text>
<text id="t_0.9x" transform="translate(410.50,718.70) scale(0.9259,1)" font-size="18.90" text-anchor="start" font-family="Liberation Serif, serif">0.9x</text>
</svg>
</body></html>
